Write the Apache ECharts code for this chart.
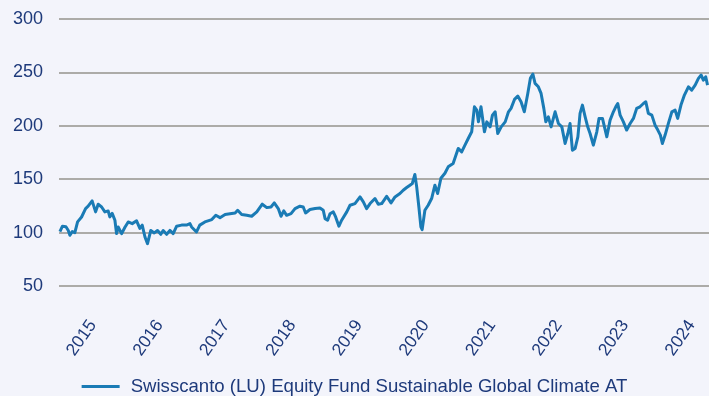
<!DOCTYPE html>
<html>
<head>
<meta charset="utf-8">
<script src="https://cdn.jsdelivr.net/npm/echarts@6/dist/echarts.min.js"></script>
<style>
  html, body { margin: 0; padding: 0; background: #f3f4fb; }
  #chart { width: 709px; height: 396px; }
</style>
</head>
<body>
<div id="chart"></div>
<script>
// Fund name shown in the legend
const seriesName = 'Swisscanto (LU) Equity Fund Sustainable Global Climate AT';

// Observation dates of the indexed price series
const dates = [
  '2014-10-13','2014-10-27','2014-11-15','2014-11-28','2014-12-07','2014-12-20',
  '2015-01-03','2015-01-18','2015-02-09','2015-03-03','2015-03-17','2015-04-08','2015-04-27',
  '2015-05-11','2015-05-30','2015-06-17','2015-07-05','2015-07-14','2015-07-27','2015-08-11',
  '2015-08-20','2015-08-29','2015-09-17','2015-10-05','2015-10-23','2015-11-14','2015-12-08',
  '2015-12-26',
  '2016-01-08','2016-01-23','2016-02-06','2016-02-24','2016-03-14','2016-04-01','2016-04-19',
  '2016-05-02','2016-05-21','2016-06-08','2016-06-26','2016-07-15','2016-08-11','2016-09-07',
  '2016-09-26','2016-10-05','2016-11-01','2016-11-19','2016-12-17',
  '2017-01-24','2017-02-15','2017-03-10','2017-04-07','2017-05-04','2017-06-01','2017-06-15',
  '2017-07-07','2017-08-04','2017-08-31','2017-09-28','2017-10-28','2017-11-22','2017-12-15',
  '2018-01-02','2018-01-24','2018-02-08','2018-02-23','2018-03-11','2018-04-04','2018-04-26',
  '2018-05-23','2018-06-10','2018-06-23','2018-07-17','2018-08-14','2018-09-10','2018-09-28',
  '2018-10-08','2018-10-22','2018-11-04','2018-11-22','2018-12-05','2018-12-23',
  '2019-01-07','2019-02-04','2019-02-22','2019-03-21','2019-04-18','2019-05-06','2019-05-24',
  '2019-06-12','2019-07-09','2019-07-27','2019-08-15','2019-09-11','2019-10-05','2019-10-27',
  '2019-11-23','2019-12-11','2019-12-30',
  '2020-01-17','2020-01-30','2020-02-13','2020-02-23','2020-03-06','2020-03-17','2020-03-24',
  '2020-04-08','2020-04-26','2020-05-15','2020-06-02','2020-06-17','2020-07-05','2020-07-27',
  '2020-08-14','2020-08-23','2020-09-10','2020-10-08','2020-10-27','2020-11-14','2020-12-02',
  '2020-12-21',
  '2021-01-05','2021-01-18','2021-01-27','2021-02-10','2021-03-01','2021-03-14','2021-04-01',
  '2021-04-14','2021-04-29','2021-05-13','2021-06-01','2021-06-23','2021-07-11','2021-07-25',
  '2021-08-13','2021-08-31','2021-09-18','2021-10-06','2021-10-25','2021-11-08','2021-11-22',
  '2021-12-04','2021-12-22',
  '2022-01-06','2022-01-21','2022-02-01','2022-02-15','2022-03-02','2022-03-24','2022-04-11',
  '2022-04-30','2022-05-18','2022-06-02','2022-06-14','2022-06-27','2022-07-12','2022-07-27',
  '2022-08-08','2022-08-21','2022-09-05','2022-09-19','2022-10-02','2022-10-20','2022-11-08',
  '2022-11-20','2022-12-09',
  '2023-01-02','2023-01-20','2023-02-07','2023-02-20','2023-03-03','2023-03-16','2023-04-03',
  '2023-04-21','2023-05-10','2023-05-28','2023-06-15','2023-07-03','2023-07-22','2023-08-04',
  '2023-08-18','2023-09-06','2023-09-24','2023-10-09','2023-10-23','2023-11-03','2023-11-18',
  '2023-12-06','2023-12-25',
  '2024-01-12','2024-01-26','2024-02-13','2024-03-03','2024-03-25','2024-04-12','2024-05-01',
  '2024-05-19','2024-06-03','2024-06-15','2024-06-28','2024-07-08'
];

// Indexed fund value (start = 100)
const values = [
  101,106,105.5,102,97.5,101,
  100,110,114.6,122.5,124.7,129.7,119.4,
  126.6,124,119.4,120.3,114.7,118,111.6,
  99.1,105.3,99,105,110,108.4,111,
  104,
  107,95.9,89.7,102,99.7,102,98.4,
  102,98.4,102,99.1,106,107,107,
  108.4,105.3,100.6,107,110,
  112.2,116.2,114,117,117.7,118.4,120.9,
  117,116.2,115.3,119.4,126.6,123.4,124,
  127.8,122.5,115.3,120.3,116.2,117.7,122.5,
  124.7,124,118.4,121.6,122.5,123,120.9,
  113.1,111.6,117.7,119.4,114.7,106,
  111.6,119.4,125.6,127.2,133.4,128.8,122.5,
  127.2,131.9,126.6,127.2,134,127.8,133.4,
  136.6,139.7,142.2,
  144.4,146,154.4,142.8,124,105.3,102.8,
  120.9,125.6,131.9,144.4,136.6,150.9,155.6,
  161.6,163.3,164.7,178.8,175.6,181.9,188.1,
  194.4,
  217.8,214.7,203.7,217.8,194.4,203.7,199,
  210,213.1,192.8,199,203.7,213.1,216.3,
  224.7,227.8,222.5,213.1,230.3,244.4,248.4,
  239.7,236.5,
  230.3,216.3,203.7,208.4,199,213.1,202.2,
  199,183.5,192.8,202.2,177.2,178.8,189.7,
  211.6,219.4,208.4,199,192.8,181.9,194.4,
  206.9,206.9,
  189.7,205.3,213.1,217.8,220.9,210,203.7,
  196,202.2,206.9,216.3,217.8,220.9,222.5,
  211.6,210,200.6,196,191.3,183.5,191.3,
  202.2,213.1,
  214.7,206.9,219.4,228.8,236.5,233.4,238.1,
  244.4,247.5,242.8,245.9,238.1
];

// Y axis scale
const yMin = 50, yMax = 300, yStep = 50;

// Year labels along the time axis
const yearLabels = ['2015','2016','2017','2018','2019','2020','2021','2022','2023','2024'];
const axisStart = '2014-10-08';
const axisEnd = '2024-07-16';

const textColor = '#1e3a7b';
const lineColor = '#1a7bb5';
const font = 'Liberation Sans, Arial, sans-serif';

const ts = d => Date.parse(d + 'T00:00:00Z');
const labelPositions = yearLabels.map(y => ts(y + '-04-12'));

const chart = echarts.init(document.getElementById('chart'), null, { renderer: 'canvas' });
chart.setOption({
  backgroundColor: '#f3f4fb',
  animation: false,
  textStyle: { fontFamily: font },
  grid: { left: 59, right: 0, top: 19, bottom: 110, containLabel: false },
  xAxis: {
    type: 'value',
    min: ts(axisStart),
    max: ts(axisEnd),
    axisLine: { show: false },
    axisTick: { show: false },
    splitLine: { show: false },
    axisLabel: {
      customValues: labelPositions,
      formatter: v => String(new Date(v).getUTCFullYear()),
      rotate: 55,
      margin: 36,
      color: textColor,
      fontSize: 17.5,
      fontFamily: font
    }
  },
  yAxis: {
    type: 'value',
    min: yMin,
    max: yMax,
    interval: yStep,
    axisLine: { show: false },
    axisTick: { show: false },
    axisLabel: { color: textColor, fontSize: 18, margin: 16, fontFamily: font },
    splitLine: { lineStyle: { color: '#94938c', width: 1.5 } }
  },
  legend: {
    top: 372,
    left: 'center',
    icon: 'rect',
    itemWidth: 38,
    itemHeight: 3,
    textStyle: { color: textColor, fontSize: 18.6, padding: [0, 0, 0, 6], fontFamily: font },
    data: [seriesName]
  },
  series: [{
    name: seriesName,
    type: 'line',
    showSymbol: false,
    symbol: 'none',
    data: dates.map((d, i) => [ts(d), values[i]]),
    lineStyle: { color: lineColor, width: 3, join: 'round' },
    itemStyle: { color: lineColor }
  }]
});
</script>
</body>
</html>
